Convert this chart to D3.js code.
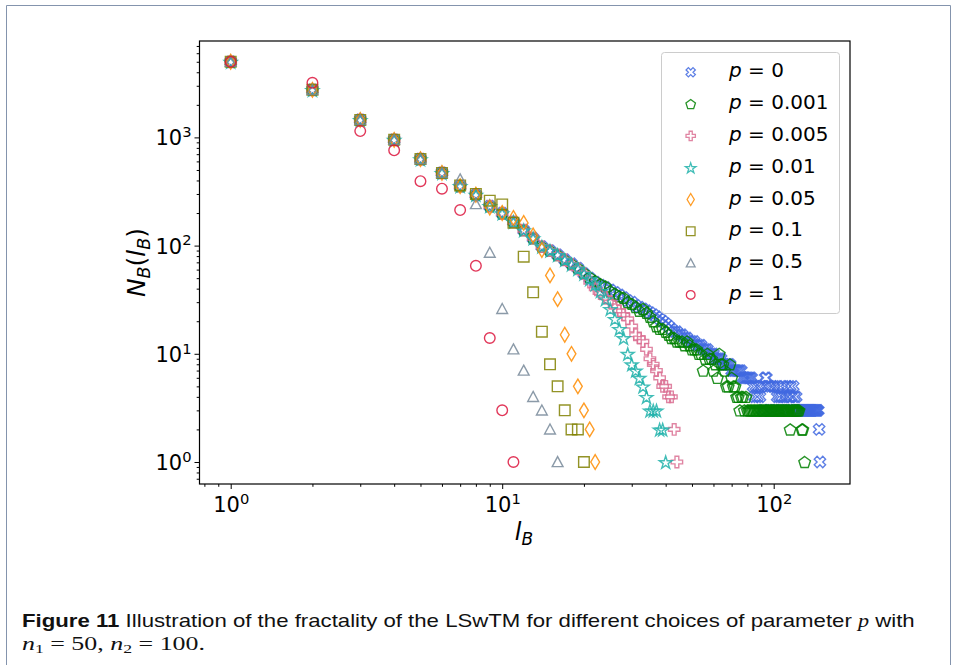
<!DOCTYPE html>
<html>
<head>
<meta charset="utf-8">
<script src="https://cdn.jsdelivr.net/npm/d3@7"></script>
<style>
  body { margin: 0; background: #fff; }
  svg { display: block; }
</style>
</head>
<body>
<svg id="fig" width="956" height="665"></svg>
<script>
// N_B(l_B) for each p, index i -> l_B = i + 1 (null = no point)
const pLabels = ["0", "0.001", "0.005", "0.01", "0.05", "0.1", "0.5", "1"];

const nbP0 = [5000,2750,1450,950,630,470,355,295,232,199,
  166,139,117,98,90,82,74,68,62,55,
  50,46,43,41,39,37,35,33,31,30,
  28,27,26,25,24,23,22,21,20,19,
  18,17,16,16,15,15,14,14,13,13,
  13,12,12,12,11,11,11,10,10,10,
  9,9,9,9,8,8,8,8,8,7,
  7,7,7,7,7,7,6,6,6,6,
  6,6,6,5,4,5,4,5,4,5,
  3,3,6,6,5,3,5,3,5,3,
  5,3,4,5,4,3,4,5,3,4,
  3,5,3,4,5,4,3,5,4,3,
  4,3,3,3,3,3,3,3,3,3,
  3,3,3,3,3,3,3,3,3,3,
  3,3,3,3,3,3,2,1];

const nbP0001 = [5000,2750,1450,950,630,470,355,295,232,199,
  166,139,117,98,90,82,74,68,62,56,
  51,47,44,42,38,36,34,33,30,29,
  27,25,26,24,22,20,18,17,17,16,
  15,14,14,13,13,13,12,13,12,11,
  11,11,10,10,7,9,10,9,9,7,
  8,6,10,8,8,7,5,5,8,6,
  5,5,4,4,3,4,4,3,4,3,
  3,3,3,3,3,3,3,3,3,3,
  3,3,3,3,3,3,3,3,3,3,
  3,3,3,3,3,3,3,3,3,3,
  3,3,3,3,2,3,3,3,3,3,
  3,3,3,3,null,null,2,2,null,1];

const nbP0005 = [5000,2750,1450,950,630,470,355,295,232,199,
  166,139,117,98,90,82,74,67,61,55,
  46,40,36,33,30,27,25,23,21,18,
  15,14,13,11,9,8,7,6,5,5,
  4,4,2,1];

const nbP001 = [5000,2750,1450,950,630,470,355,295,232,199,
  166,139,117,98,90,82,74,67,61,55,
  49,44,38,32,26,21,17,14,10,8,
  7,6,5,4,3,3,3,2,2,1];

const nbP005 = [5000,2750,1450,950,630,470,355,295,225,200,
  180,162,124,91,53,32,15,10,5,3,
  2,1];

const nbP01 = [5000,2750,1450,950,630,470,360,300,260,240,
  163,79,37,16,8,5,3,2,2,1];

const nbP05 = [5000,2750,1450,950,630,470,410,242,86,26,
  11,7,4,3,2,1];

const nbP1 = [5000,3200,1143,759,394,336,213,65,14,3,1];

const xMajor = [1, 10, 100];
const yMajor = [1, 10, 100, 1000];

const seriesValues = [nbP0, nbP0001, nbP0005, nbP001, nbP005, nbP01, nbP05, nbP1];
const colors = ["#4169e1", "#008000", "#db7093", "#20b2aa", "#ff8c00", "#808000", "#778899", "#dc143c"];
const shapes = ["X", "pentagon", "P", "star", "thin_diamond", "square", "triangle", "circle"];

const svg = d3.select("#fig");
const margin = { left: 199.5, right: 850, top: 41, bottom: 484 };

const x = d3.scaleLog().domain([0.7675, 191]).range([margin.left, margin.right]);
const y = d3.scaleLog().domain([0.626, 7780]).range([margin.bottom, margin.top]);

// page frame
svg.append("path")
  .attr("d", "M6.5,665V5.5H950.5V665")
  .attr("fill", "none")
  .attr("stroke", "#8494ad")
  .attr("stroke-width", 1);

function shapePath(type, s) {
  if (type === "circle") {
    return d3.symbol(d3.symbolCircle, Math.PI * 5.3 * 5.3 * s * s)();
  }
  if (type === "square") {
    const r = 5.3 * s;
    return `M${-r},${-r}H${r}V${r}H${-r}Z`;
  }
  if (type === "triangle") {
    const r = 5.4 * s;
    return `M0,${-r}L${r},${r * 0.85}L${-r},${r * 0.85}Z`;
  }
  if (type === "thin_diamond") {
    const r = 7.3 * s;
    return `M0,${-r}L${0.6 * r},0L0,${r}L${-0.6 * r},0Z`;
  }
  if (type === "pentagon") {
    const r = 6.1 * s;
    const pts = d3.range(5).map(i => {
      const a = -Math.PI / 2 + i * 2 * Math.PI / 5;
      return [r * Math.cos(a), r * Math.sin(a) + 0.6 * s];
    });
    return "M" + pts.map(p => p.join(",")).join("L") + "Z";
  }
  if (type === "star") {
    const R = 6.7 * s, ri = R * 0.382;
    const pts = d3.range(10).map(i => {
      const a = -Math.PI / 2 + i * Math.PI / 5;
      const rr = i % 2 === 0 ? R : ri;
      return [rr * Math.cos(a), rr * Math.sin(a) + 0.8 * s];
    });
    return "M" + pts.map(p => p.join(",")).join("L") + "Z";
  }
  if (type === "P" || type === "X") {
    const a = (type === "P" ? 5.7 : 6) * s, w = a / 3;
    let pts = [[-w,-a],[w,-a],[w,-w],[a,-w],[a,w],[w,w],[w,a],[-w,a],[-w,w],[-a,w],[-a,-w],[-w,-w]];
    if (type === "X") {
      const c = Math.SQRT1_2;
      pts = pts.map(([px, py]) => [c * (px - py), c * (px + py)]);
    }
    return "M" + pts.map(p => p.join(",")).join("L") + "Z";
  }
}

// points
const plot = svg.append("g").attr("class", "points");
seriesValues.forEach((vals, k) => {
  const data = vals.map((v, i) => ({ l: i + 1, n: v })).filter(d => d.n != null);
  const path = shapePath(shapes[k], 1);
  plot.append("g")
    .selectAll("path")
    .data(data)
    .join("path")
    .attr("d", path)
    .attr("transform", d => `translate(${x(d.l)},${y(d.n)})`)
    .attr("fill", "none")
    .attr("stroke", colors[k])
    .attr("stroke-opacity", 0.85)
    .attr("stroke-width", 1.4);
});

// minor tick values
function minors(lo, hi) {
  const out = [];
  for (let e = -1; e <= 4; e++) {
    for (let m = 2; m <= 9; m++) {
      const v = m * Math.pow(10, e);
      if (v >= lo && v <= hi) out.push(v);
    }
  }
  return out;
}

const xMinor = minors(x.domain()[0], x.domain()[1]);
const yMinor = minors(y.domain()[0], y.domain()[1]);

const tickFont = "DejaVu Sans, sans-serif";
const tickSize = 21;

function powerLabel(sel, fontSize) {
  sel.each(function (d) {
    const t = d3.select(this);
    const e = Math.round(Math.log10(d));
    t.text("");
    t.append("tspan").text("10");
    t.append("tspan")
      .attr("font-size", fontSize * 0.7)
      .attr("dy", -8.2)
      .text(e);
  });
}

// x axis
const gx = svg.append("g").attr("transform", `translate(0,${margin.bottom})`);
gx.call(d3.axisBottom(x).tickValues(xMinor).tickSize(2.8).tickFormat(""));
const gxMaj = svg.append("g").attr("transform", `translate(0,${margin.bottom})`);
gxMaj.call(d3.axisBottom(x).tickValues(xMajor).tickSize(5).tickPadding(0));
gx.select(".domain").remove();
gxMaj.select(".domain").remove();
gxMaj.selectAll("text")
  .attr("font-family", tickFont)
  .attr("font-size", tickSize)
  .attr("fill", "#000")
  .attr("dy", null)
  .attr("y", 28)
  .call(powerLabel, tickSize);

// y axis
const gy = svg.append("g").attr("transform", `translate(${margin.left},0)`);
gy.call(d3.axisLeft(y).tickValues(yMinor).tickSize(2.8).tickFormat(""));
const gyMaj = svg.append("g").attr("transform", `translate(${margin.left},0)`);
gyMaj.call(d3.axisLeft(y).tickValues(yMajor).tickSize(5).tickPadding(0));
gy.select(".domain").remove();
gyMaj.select(".domain").remove();
gyMaj.selectAll("text")
  .attr("font-family", tickFont)
  .attr("font-size", tickSize)
  .attr("fill", "#000")
  .attr("dy", null)
  .attr("x", -8)
  .attr("y", 7.5)
  .call(powerLabel, tickSize);

svg.selectAll(".tick line").attr("stroke", "#000").attr("stroke-width", 1);

// frame
svg.append("rect")
  .attr("x", margin.left)
  .attr("y", margin.top)
  .attr("width", margin.right - margin.left)
  .attr("height", margin.bottom - margin.top)
  .attr("fill", "none")
  .attr("stroke", "#000")
  .attr("stroke-width", 1.2);

// axis titles
const xt = svg.append("text")
  .attr("x", 524)
  .attr("y", 540)
  .attr("text-anchor", "middle")
  .attr("font-family", tickFont)
  .attr("font-size", 24);
xt.append("tspan").attr("font-style", "italic").text("l");
xt.append("tspan").attr("font-style", "italic").attr("font-size", 17).attr("dy", 5).text("B");

const yt = svg.append("text")
  .attr("transform", "translate(145,262.5) rotate(-90)")
  .attr("text-anchor", "middle")
  .attr("font-family", tickFont)
  .attr("font-size", 25);
yt.append("tspan").attr("font-style", "italic").text("N");
yt.append("tspan").attr("font-style", "italic").attr("font-size", 17.5).attr("dy", 5).text("B");
yt.append("tspan").attr("dy", -5).text("(");
yt.append("tspan").attr("font-style", "italic").text("l");
yt.append("tspan").attr("font-style", "italic").attr("font-size", 17.5).attr("dy", 5).text("B");
yt.append("tspan").attr("dy", -5).text(")");

// legend
const legend = svg.append("g");
legend.append("rect")
  .attr("x", 661.5).attr("y", 52.5)
  .attr("width", 178).attr("height", 261)
  .attr("rx", 3)
  .attr("fill", "#fff").attr("fill-opacity", 0.8)
  .attr("stroke", "#cccccc").attr("stroke-width", 1);

pLabels.forEach((lab, k) => {
  const ry = 72.3 + k * 31.8;
  legend.append("path")
    .attr("d", shapePath(shapes[k], 0.82))
    .attr("transform", `translate(690.7,${ry})`)
    .attr("fill", "none")
    .attr("stroke", colors[k])
    .attr("stroke-opacity", 0.85)
    .attr("stroke-width", 1.3);
  const t = legend.append("text")
    .attr("x", 729)
    .attr("y", ry + 5)
    .attr("font-family", tickFont)
    .attr("font-size", 20);
  t.append("tspan").attr("font-style", "italic").text("p");
  t.append("tspan").text(" = " + lab);
});

// caption
function fitWidth(sel, x0, width) {
  const w = sel.node().getComputedTextLength();
  sel.attr("transform", `translate(${x0},0) scale(${width / w},1) translate(${-x0},0)`);
}

const cap1 = svg.append("text")
  .attr("x", 22).attr("y", 627)
  .attr("font-family", "Liberation Sans, Arial, sans-serif")
  .attr("font-size", 19)
  .attr("fill", "#111");
cap1.append("tspan").attr("font-weight", "bold").text("Figure 11");
cap1.append("tspan").text(" Illustration of the fractality of the LSwTM for different choices of parameter ");
cap1.append("tspan").attr("font-family", "Liberation Serif, serif").attr("font-style", "italic").text("p");
cap1.append("tspan").text(" with");
fitWidth(cap1, 22, 893);

const cap2 = svg.append("text")
  .attr("x", 22).attr("y", 650)
  .attr("font-family", "Liberation Serif, serif")
  .attr("font-size", 19)
  .attr("fill", "#111");
cap2.append("tspan").attr("font-style", "italic").text("n");
cap2.append("tspan").attr("font-size", 13).attr("dy", 3).text("1");
cap2.append("tspan").attr("dy", -3).text(" = 50, ");
cap2.append("tspan").attr("font-style", "italic").text("n");
cap2.append("tspan").attr("font-size", 13).attr("dy", 3).text("2");
cap2.append("tspan").attr("dy", -3).text(" = 100.");
fitWidth(cap2, 22, 183);
</script>
</body>
</html>
